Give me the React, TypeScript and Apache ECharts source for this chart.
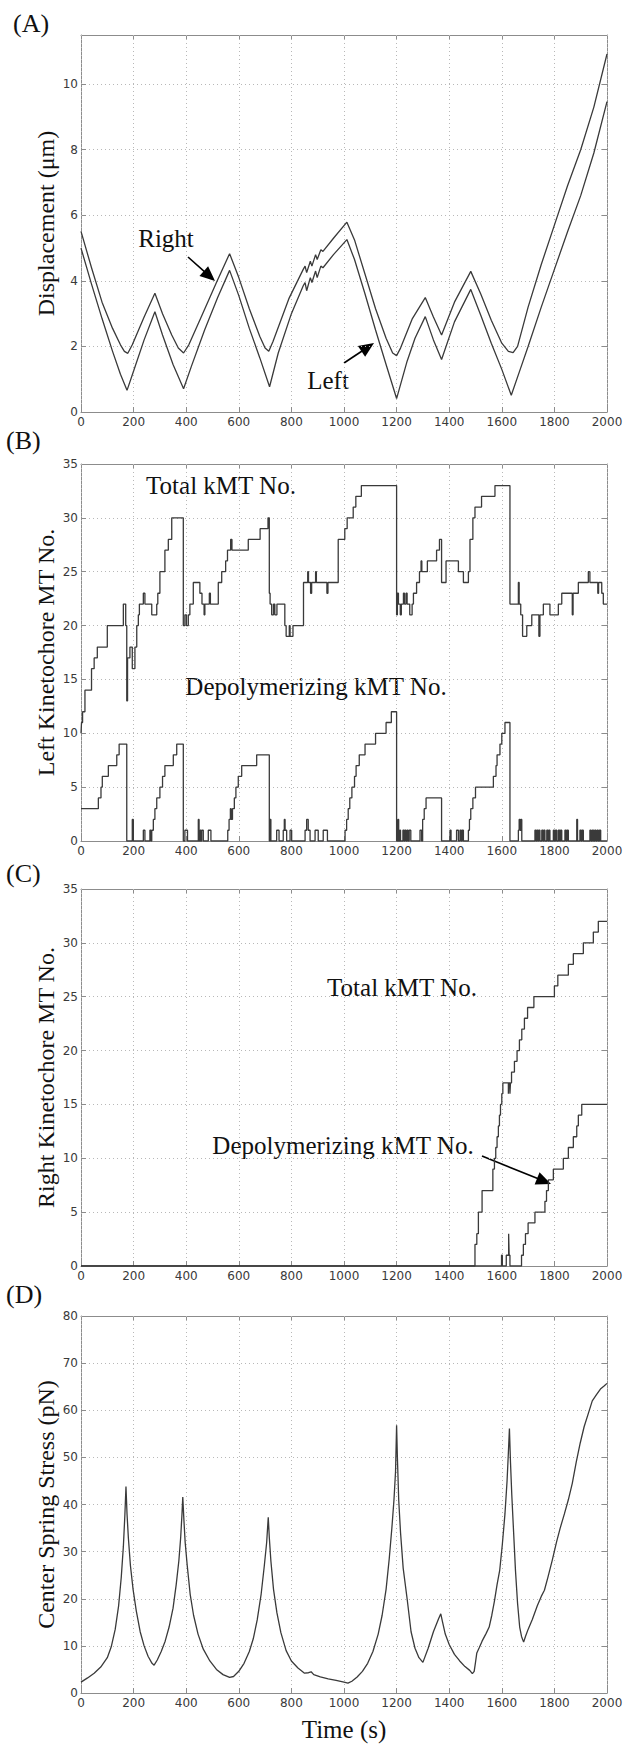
import React, { useEffect, useRef } from "react";
import * as echarts from "echarts";

// ---------------- data ----------------
const timeMax = 2000;
const timeInterval = 200;

// (A) displacement (µm): [time s, value]
const rightDisplacement: [number, number][] = [
  [0, 5.51], [40, 4.4], [80, 3.35], [120, 2.55], [150, 2.05], [165, 1.85], [178, 1.79], [195, 2.05], [240, 2.9], [281, 3.62],
  [310, 3.0], [345, 2.35], [370, 1.95], [390, 1.8], [410, 2.05], [460, 2.95], [515, 3.95], [565, 4.83], [600, 4.1], [640, 3.15],
  [680, 2.3], [700, 1.95], [714, 1.85], [730, 2.15], [790, 3.45], [845, 4.35], [852, 4.45], [858, 4.25], [872, 4.6], [878, 4.45],
  [892, 4.8], [898, 4.65], [912, 4.95], [920, 4.9], [960, 5.3], [1011, 5.79], [1040, 5.25], [1080, 4.2], [1120, 3.15], [1160, 2.25],
  [1185, 1.8], [1200, 1.72], [1215, 1.95], [1260, 2.85], [1309, 3.49], [1340, 2.9], [1371, 2.35], [1420, 3.35], [1482, 4.29],
  [1520, 3.6], [1560, 2.8], [1600, 2.1], [1625, 1.85], [1643, 1.81], [1660, 2.0], [1700, 3.2], [1750, 4.5], [1800, 5.7],
  [1850, 6.9], [1900, 8.0], [1950, 9.3], [2000, 10.92],
];
const leftDisplacement: [number, number][] = [
  [0, 5.0], [40, 3.9], [80, 2.85], [120, 1.85], [150, 1.15], [175, 0.66], [200, 1.25], [240, 2.2], [281, 3.06], [310, 2.35],
  [350, 1.45], [390, 0.71], [420, 1.4], [470, 2.5], [520, 3.5], [565, 4.32], [600, 3.55], [640, 2.55], [680, 1.65], [717, 0.77],
  [750, 1.8], [800, 3.0], [845, 3.85], [852, 3.95], [858, 3.7], [872, 4.1], [878, 3.95], [892, 4.3], [898, 4.1], [912, 4.45],
  [920, 4.4], [960, 4.8], [1011, 5.26], [1040, 4.65], [1080, 3.6], [1120, 2.5], [1160, 1.45], [1200, 0.41], [1240, 1.55],
  [1270, 2.25], [1309, 2.91], [1340, 2.2], [1371, 1.6], [1420, 2.75], [1482, 3.74], [1520, 2.95], [1560, 2.1], [1600, 1.3],
  [1636, 0.51], [1670, 1.3], [1700, 2.0], [1750, 3.2], [1800, 4.35], [1850, 5.5], [1900, 6.6], [1950, 7.9], [2000, 9.47],
];

// (B) left kinetochore MT numbers: change points [time s, new count]
const leftTotalKMT: [number, number][] = [
  [0, 10], [2, 11], [6, 12], [15, 14], [40, 16], [50, 17], [62, 18], [100, 20], [161, 22], [170, 20], [174, 13], [177, 17],
  [186, 18], [195, 16], [205, 18], [212, 20], [218, 21], [222, 22], [237, 23], [243, 22], [269, 21], [288, 22], [292, 23],
  [300, 25], [319, 27], [332, 28], [345, 30], [389, 20], [395, 21], [401, 20], [408, 21], [414, 22], [427, 24], [452, 23],
  [460, 22], [468, 21], [471, 22], [488, 23], [492, 22], [522, 24], [535, 25], [550, 26], [557, 27], [569, 28], [574, 27],
  [636, 28], [681, 29], [711, 30], [716, 23], [719, 22], [725, 21], [732, 22], [737, 21], [745, 22], [775, 20], [780, 19],
  [792, 20], [795, 19], [806, 20], [846, 24], [862, 25], [865, 24], [873, 23], [877, 24], [892, 25], [895, 24], [935, 23],
  [939, 24], [978, 28], [1003, 29], [1012, 30], [1035, 31], [1045, 32], [1066, 33], [1200, 21], [1203, 23], [1207, 22],
  [1214, 21], [1218, 22], [1226, 23], [1230, 22], [1236, 23], [1240, 22], [1250, 21], [1259, 22], [1264, 23], [1276, 24],
  [1287, 25], [1293, 26], [1296, 25], [1317, 26], [1352, 27], [1363, 28], [1371, 24], [1388, 26], [1435, 25], [1454, 24],
  [1473, 25], [1479, 28], [1490, 30], [1498, 31], [1523, 32], [1574, 33], [1631, 22], [1663, 24], [1666, 22], [1672, 21],
  [1679, 19], [1695, 20], [1714, 21], [1741, 19], [1745, 21], [1758, 22], [1783, 21], [1815, 22], [1828, 23], [1868, 21],
  [1871, 23], [1891, 24], [1929, 25], [1935, 24], [1965, 23], [1968, 24], [1980, 23], [1986, 22],
];
const leftDepolymerizingKMT: [number, number][] = [
  [0, 3], [66, 4], [76, 5], [81, 6], [104, 7], [136, 8], [145, 9], [174, 0],
  [195, 2], [199, 0], [237, 1], [243, 0], [262, 1], [266, 0], [269, 1], [275, 2], [281, 3], [288, 4], [300, 5], [310, 6],
  [319, 7], [351, 8], [364, 9], [389, 0],
  [395, 1], [405, 0], [446, 2], [449, 0], [453, 1], [456, 0], [459, 1], [465, 0], [484, 1], [494, 0],
  [558, 1], [563, 2], [568, 3], [571, 2], [576, 3], [583, 4], [589, 5], [598, 6], [611, 7], [668, 8], [716, 0],
  [719, 2], [722, 0], [744, 1], [753, 0], [769, 1], [773, 2], [776, 1], [782, 0], [795, 1], [801, 0],
  [852, 1], [858, 2], [864, 1], [871, 0], [890, 1], [902, 0], [921, 1], [937, 0],
  [1004, 1], [1010, 2], [1016, 3], [1022, 4], [1030, 5], [1040, 6], [1046, 7], [1058, 8], [1080, 9], [1120, 10],
  [1160, 11], [1180, 12], [1200, 0],
  [1205, 2], [1208, 0], [1212, 1], [1215, 0], [1224, 1], [1228, 0], [1231, 1], [1236, 0], [1240, 1], [1244, 0],
  [1248, 1], [1254, 0], [1289, 1], [1295, 0], [1299, 2], [1305, 3], [1312, 4], [1371, 0],
  [1403, 1], [1407, 0], [1428, 1], [1435, 0], [1441, 1], [1446, 0], [1449, 1], [1454, 0],
  [1473, 1], [1477, 2], [1482, 3], [1490, 4], [1500, 5], [1568, 6], [1578, 7], [1582, 8], [1593, 9], [1600, 10],
  [1612, 11], [1631, 0],
  [1663, 1], [1666, 2], [1670, 1], [1673, 2], [1676, 0],
  [1726, 1], [1730, 0], [1733, 1], [1737, 0], [1740, 1], [1745, 0], [1752, 1], [1757, 0], [1760, 1], [1764, 0],
  [1771, 1], [1776, 0], [1779, 1], [1783, 0], [1796, 1], [1800, 0], [1804, 1], [1809, 0], [1815, 1], [1820, 0],
  [1823, 1], [1828, 0], [1840, 1], [1845, 0], [1848, 1], [1853, 0], [1885, 2], [1888, 0], [1897, 1], [1902, 0],
  [1905, 1], [1910, 0], [1935, 1], [1940, 0], [1944, 1], [1949, 0], [1953, 1], [1958, 0], [1962, 1], [1967, 0],
  [1971, 1], [1976, 0],
];

// (C) right kinetochore MT numbers: change points [time s, new count]
const rightTotalKMT: [number, number][] = [
  [0, 0], [1498, 2], [1505, 3], [1511, 5], [1525, 7], [1566, 9], [1572, 10], [1577, 11], [1582, 12], [1587, 13],
  [1591, 14], [1595, 15], [1600, 16], [1604, 17], [1625, 16], [1627, 17], [1631, 16], [1633, 17], [1637, 18],
  [1648, 19], [1658, 20], [1667, 21], [1676, 22], [1686, 23], [1698, 24], [1722, 25], [1800, 26], [1813, 27],
  [1853, 28], [1872, 29], [1910, 30], [1948, 31], [1967, 32],
];
const rightDepolymerizingKMT: [number, number][] = [
  [0, 0], [1599, 1], [1602, 0], [1617, 1], [1626, 3], [1628, 1], [1631, 0], [1675, 1], [1682, 2], [1690, 3],
  [1700, 4], [1726, 5], [1764, 6], [1770, 7], [1777, 8], [1796, 9], [1834, 10], [1853, 11], [1872, 12],
  [1885, 13], [1891, 14], [1904, 15],
];

// (D) center spring stress (pN): [time s, value]
const springStress: [number, number][] = [
  [0, 2.3], [25, 3.2], [50, 4.2], [75, 5.5], [100, 7.5], [115, 9.8], [130, 13.5], [143, 18.5], [153, 24.5], [161, 31],
  [167, 38], [171, 43.8], [175, 38], [180, 33], [188, 27], [198, 22], [210, 17.5], [225, 13], [240, 10], [255, 7.8],
  [270, 6.3], [278, 5.9], [290, 7], [305, 8.8], [320, 11], [335, 14], [350, 18], [362, 23], [372, 28], [379, 33],
  [384, 38], [387, 41.6], [391, 37], [396, 32], [404, 27], [415, 21], [428, 16.5], [445, 12.5], [465, 9.3], [490, 6.8],
  [515, 5], [540, 3.9], [565, 3.3], [580, 3.5], [600, 4.6], [620, 6.3], [640, 8.8], [655, 11.5], [670, 15.5], [685, 21],
  [697, 27], [706, 32], [712, 37.3], [716, 33], [722, 28], [732, 22], [745, 17], [760, 12.8], [780, 9], [800, 6.8],
  [825, 5.3], [850, 4.2], [865, 4.3], [875, 4.5], [885, 3.9], [910, 3.4], [940, 3.0], [970, 2.7], [1000, 2.3],
  [1015, 2.1], [1030, 2.5], [1050, 3.4], [1070, 4.6], [1090, 6.3], [1110, 8.8], [1130, 12.5], [1145, 16.5], [1160, 22],
  [1172, 28.5], [1182, 35], [1190, 41], [1196, 47], [1200, 56.8], [1203, 50], [1208, 41], [1215, 34], [1225, 26.5],
  [1240, 20], [1255, 13], [1270, 9.5], [1285, 7.5], [1300, 6.5], [1320, 9.5], [1340, 13], [1360, 15.8], [1368, 16.8],
  [1375, 15], [1385, 12.5], [1400, 10.3], [1420, 8.2], [1440, 6.8], [1460, 5.6], [1478, 4.8], [1488, 4.1], [1495, 4.6],
  [1500, 6.5], [1505, 8.5], [1515, 9.7], [1525, 11], [1540, 12.6], [1552, 14], [1562, 16.5], [1572, 19.5], [1582, 23],
  [1592, 26], [1602, 31.5], [1612, 38], [1620, 45], [1625, 51], [1629, 56.1], [1633, 49], [1638, 42], [1645, 34],
  [1652, 26], [1660, 19], [1668, 14], [1675, 12], [1683, 10.8], [1690, 12], [1700, 13.5], [1716, 15.6], [1735, 18.5],
  [1750, 20.5], [1762, 21.8], [1775, 24.5], [1792, 28.2], [1808, 32], [1822, 35], [1838, 38], [1853, 41], [1868, 44.5],
  [1883, 49], [1898, 53], [1913, 56.5], [1930, 59.5], [1944, 62], [1960, 63.3], [1975, 64.5], [1990, 65.2], [2000, 65.7],
];

const yTitles = ["Displacement (\u03bcm)", "Left Kinetochore MT No.", "Right Kinetochore MT No.", "Center Spring Stress (pN)"];
const panelLabels = ["(A)", "(B)", "(C)", "(D)"];
const yMax = [11.5, 35, 35, 80];
const yInterval = [2, 5, 5, 10];
const xTitle = "Time (s)";

// ---------------- layout ----------------
const W = 627;
const H = 1745;
const gridLeft = 81;
const gridWidth = 526;
const panelTops = [35, 464, 889, 1316];
const panelHeight = 377;
const axisColor = "#8c8c8c";
const labelColor = "#3a3a3a";
const lineColor = "#3a3a3a";
const serif = "Liberation Serif";

function toSteps(changes: [number, number][], tEnd: number): [number, number][] {
  const out: [number, number][] = [];
  let prev: number | null = null;
  for (const [t, v] of changes) {
    if (prev !== null) out.push([t, prev]);
    out.push([t, v]);
    prev = v;
  }
  if (prev !== null) out.push([tEnd, prev]);
  return out;
}

function arrow(x1: number, y1: number, x2: number, y2: number): any[] {
  const dx = x2 - x1;
  const dy = y2 - y1;
  const len = Math.hypot(dx, dy);
  const ux = dx / len;
  const uy = dy / len;
  const hl = 15;
  const hw = 6.5;
  const bx = x2 - ux * hl;
  const by = y2 - uy * hl;
  return [
    { type: "line", shape: { x1, y1, x2: bx + ux * 2, y2: by + uy * 2 }, style: { stroke: "#000", lineWidth: 1.6 } },
    {
      type: "polygon",
      shape: { points: [[x2, y2], [bx - uy * hw, by + ux * hw], [bx + uy * hw, by - ux * hw]] },
      style: { fill: "#000" },
    },
  ];
}

function txt(text: string, x: number, y: number, size: number, rotation = 0, align = "center"): any {
  return {
    type: "text",
    x,
    y,
    rotation,
    style: {
      text,
      fontSize: size,
      fontFamily: serif,
      fill: "#111",
      align,
      textAlign: align,
      verticalAlign: "middle",
      textVerticalAlign: "middle",
    },
  };
}

const plainNumber = (v: number) => String(v);

export default function App() {
  const ref = useRef<HTMLDivElement>(null);

  useEffect(() => {
    if (!ref.current) return;
    const chart = echarts.init(ref.current, null, { renderer: "svg" });

    const grids = panelTops.map((top) => ({
      left: gridLeft,
      top,
      width: gridWidth,
      height: panelHeight,
      containLabel: false,
      outerBoundsMode: "none",
      show: false,
    }));

    const xAxes: any[] = [];
    const yAxes: any[] = [];
    panelTops.forEach((_, i) => {
      const tick = { show: true, inside: true, length: 5, lineStyle: { color: axisColor, width: 1 } };
      const line = { show: true, onZero: false, lineStyle: { color: axisColor, width: 1 } };
      xAxes.push({
        type: "value",
        gridIndex: i,
        position: "bottom",
        z: 3,
        min: 0,
        max: timeMax,
        interval: timeInterval,
        axisLine: line,
        axisTick: tick,
        axisLabel: { margin: 4, color: labelColor, fontFamily: "DejaVu Sans", fontSize: 12, formatter: plainNumber },
        splitLine: { show: true, lineStyle: { type: [1, 3], color: "#b8b8b8", width: 1 } },
      });
      xAxes.push({
        type: "value",
        gridIndex: i,
        position: "top",
        min: 0,
        max: timeMax,
        interval: timeInterval,
        axisLine: line,
        axisTick: tick,
        axisLabel: { show: false },
        splitLine: { show: false },
      });
      yAxes.push({
        type: "value",
        gridIndex: i,
        position: "left",
        min: 0,
        max: yMax[i],
        interval: yInterval[i],
        axisLine: line,
        axisTick: tick,
        axisLabel: {
          margin: 3,
          color: labelColor,
          fontFamily: "DejaVu Sans",
          fontSize: 12,
          formatter: plainNumber,
          showMaxLabel: i === 0 ? false : true,
        },
        splitLine: { show: true, lineStyle: { type: [1, 3], color: "#b8b8b8", width: 1 } },
      });
      yAxes.push({
        type: "value",
        gridIndex: i,
        position: "right",
        min: 0,
        max: yMax[i],
        interval: yInterval[i],
        axisLine: line,
        axisTick: tick,
        axisLabel: { show: false },
        splitLine: { show: false },
      });
    });

    const mkSeries = (name: string, panel: number, data: [number, number][]) => ({
      name,
      type: "line",
      xAxisIndex: panel * 2,
      yAxisIndex: panel * 2,
      data,
      showSymbol: false,
      symbol: "none",
      silent: true,
      lineStyle: { color: lineColor, width: 1.3 },
    });

    const series = [
      mkSeries("Right", 0, rightDisplacement),
      mkSeries("Left", 0, leftDisplacement),
      mkSeries("Left total kMT", 1, toSteps(leftTotalKMT, timeMax)),
      mkSeries("Left depolymerizing kMT", 1, toSteps(leftDepolymerizingKMT, timeMax)),
      mkSeries("Right total kMT", 2, toSteps(rightTotalKMT, timeMax)),
      mkSeries("Right depolymerizing kMT", 2, toSteps(rightDepolymerizingKMT, timeMax)),
      mkSeries("Center spring stress", 3, springStress),
    ];

    const graphics: any[] = [];
    panelLabels.forEach((lab, i) => {
      const pos = [[13, 23], [6, 440], [6, 873], [6, 1294]][i];
      graphics.push(txt(lab, pos[0], pos[1], 26, 0, "left"));
    });
    yTitles.forEach((t, i) => {
      graphics.push(txt(t, 46, panelTops[i] + panelHeight / 2, 24, Math.PI / 2));
    });
    graphics.push(txt(xTitle, gridLeft + gridWidth / 2, 1729, 25));

    // panel A annotations
    graphics.push(txt("Right", 166, 238, 25));
    graphics.push(...arrow(188, 257, 215, 281));
    graphics.push(txt("Left", 328, 380, 25));
    graphics.push(...arrow(344, 363, 374, 343));
    // panel B annotations
    graphics.push(txt("Total kMT No.", 221, 485, 25));
    graphics.push(txt("Depolymerizing kMT No.", 316, 686, 25));
    // panel C annotations
    graphics.push(txt("Total kMT No.", 402, 987, 25));
    graphics.push(txt("Depolymerizing kMT No.", 343, 1145, 25));
    graphics.push(...arrow(482, 1156, 551, 1184));

    chart.setOption({
      animation: false,
      backgroundColor: "#ffffff",
      grid: grids,
      xAxis: xAxes,
      yAxis: yAxes,
      series,
      graphic: { elements: graphics },
    });

    return () => {
      chart.dispose();
    };
  }, []);

  return (
    <div
      ref={ref}
      style={{ position: "absolute", left: 0, top: 0, width: W, height: H, background: "#fff" }}
    />
  );
}
